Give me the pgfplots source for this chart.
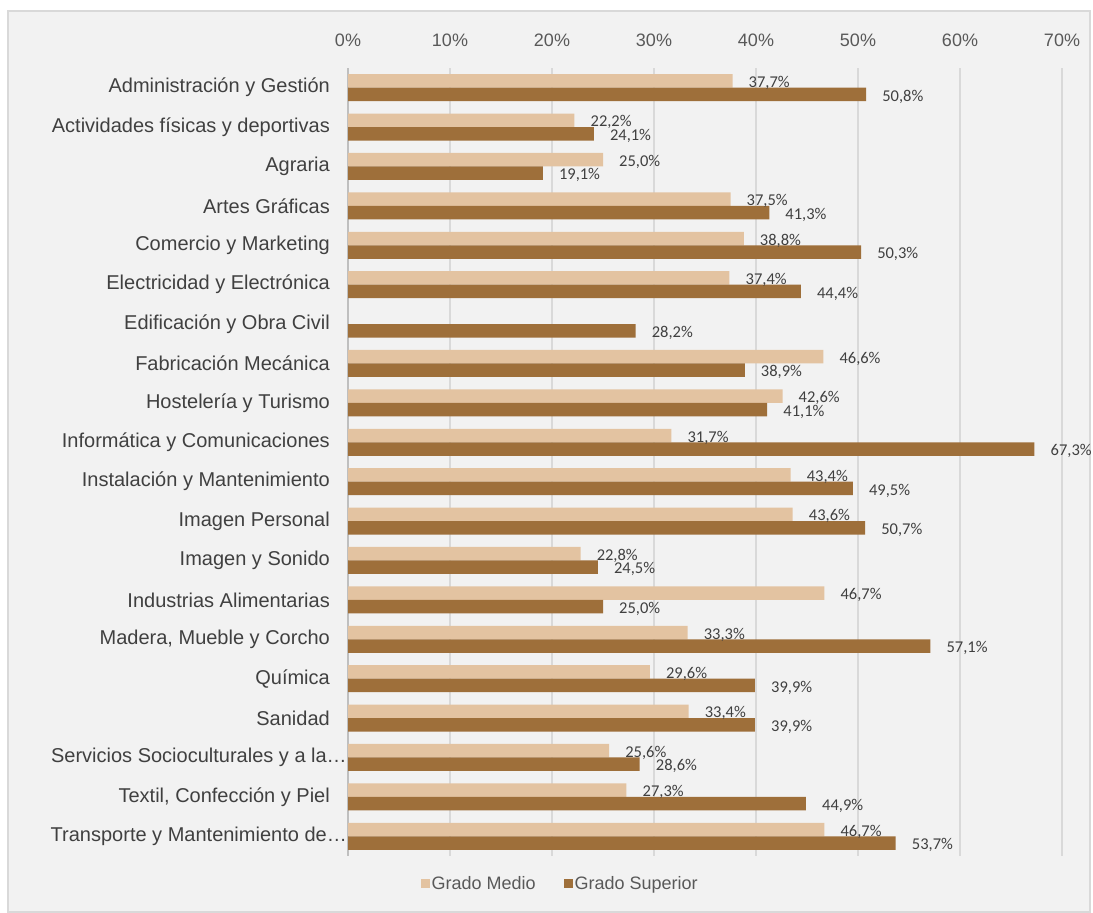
\documentclass[border=0pt]{standalone}
\usepackage{fontspec}
\setmainfont{Liberation Sans}
\newfontfamily\carlito{Carlito}
\usepackage{pgfplots}
\pgfplotsset{compat=1.18}
\definecolor{bgc}{HTML}{F2F2F2}
\definecolor{brd}{HTML}{D9D9D9}
\definecolor{gridc}{HTML}{D9D9D9}
\definecolor{axc}{HTML}{BFBFBF}
\definecolor{medio}{HTML}{E3C3A1}
\definecolor{superior}{HTML}{9E6F3A}
\definecolor{txt}{HTML}{404040}
\definecolor{txt2}{HTML}{595959}
\begin{document}
\begin{tikzpicture}
\path[use as bounding box] (0,0) rectangle (1093bp,913bp);
\fill[bgc] (8bp,1bp) rectangle (1090bp,902bp);
\draw[brd, line width=2bp] (8bp,1bp) rectangle (1090bp,902bp);
\begin{axis}[
  at={(348bp,57bp)}, anchor=south west,
  scale only axis, width=714bp, height=788bp,
  xmin=0, xmax=70, ymin=-0.5, ymax=19.5,
  clip=false,
  axis line style={draw=none},
  major tick length=0pt,
  xtick={10,20,...,70},
  xticklabel pos=upper,
  xticklabels={10\%,20\%,30\%,40\%,50\%,60\%,70\%},
  extra x ticks={0},
  extra x tick labels={0\%},
  extra x tick style={grid style={axc, line width=2.2bp}},
  xmajorgrids,
  grid style={gridc, line width=1.8bp},
  xticklabel style={anchor=base, inner sep=0pt, yshift=21bp, font=\fontsize{18bp}{20bp}\selectfont, text=txt2},
  ytick={0,...,19},
  yticklabels={Transporte y Mantenimiento de…\kern-17bp,Textil{,} Confección y Piel,Servicios Socioculturales y a la…\kern-17bp,Sanidad,Química,{Madera, Mueble y Corcho},Industrias Alimentarias,Imagen y Sonido,Imagen Personal,Instalación y Mantenimiento,Informática y Comunicaciones,Hostelería y Turismo,Fabricación Mecánica,Edificación y Obra Civil,Electricidad y Electrónica,Comercio y Marketing,Artes Gráficas,Agraria,Actividades físicas y deportivas,Administración y Gestión},
  yticklabel style={anchor=east, inner sep=0pt, xshift=-18bp, font=\fontsize{20bp}{22bp}\selectfont, text=txt},
  xbar, bar width=13.5bp,
  point meta=x,
  nodes near coords={\pgfmathprintnumber[fixed,fixed zerofill,precision=1,use comma,assume math mode=true]{\pgfplotspointmeta}\%},
  nodes near coords style={anchor=west, inner sep=0pt, xshift=16bp, yshift=-2bp, font=\carlito\fontsize{16.5bp}{18bp}\selectfont, text=txt},
  legend style={at={(0.297,0)}, yshift=-28bp, anchor=center, draw=none, fill=none,
    font=\fontsize{18bp}{20bp}\selectfont, text=txt2,
    /tikz/every even column/.append style={column sep=26bp}},
  legend columns=2,
  legend image code/.code={\fill[#1] (0bp,-4.5bp) rectangle (9bp,4.5bp);},
]
\addplot[fill=medio, draw=none, bar shift=6.75bp] coordinates {
(37.7,19) (22.2,18) (25.0,17) (37.5,16) (38.8,15) (37.4,14)
(46.6,12) (42.6,11) (31.7,10) (43.4,9) (43.6,8) (22.8,7) (46.7,6)
(33.3,5) (29.6,4) (33.4,3) (25.6,2) (27.3,1) (46.7,0)};
\addlegendentry{Grado Medio}
\addplot[fill=superior, draw=none, bar shift=-6.75bp] coordinates {
(50.8,19) (24.1,18) (19.1,17) (41.3,16) (50.3,15) (44.4,14) (28.2,13)
(38.9,12) (41.1,11) (67.3,10) (49.5,9) (50.7,8) (24.5,7) (25.0,6)
(57.1,5) (39.9,4) (39.9,3) (28.6,2) (44.9,1) (53.7,0)};
\addlegendentry{Grado Superior}
\end{axis}
\end{tikzpicture}
\end{document}
